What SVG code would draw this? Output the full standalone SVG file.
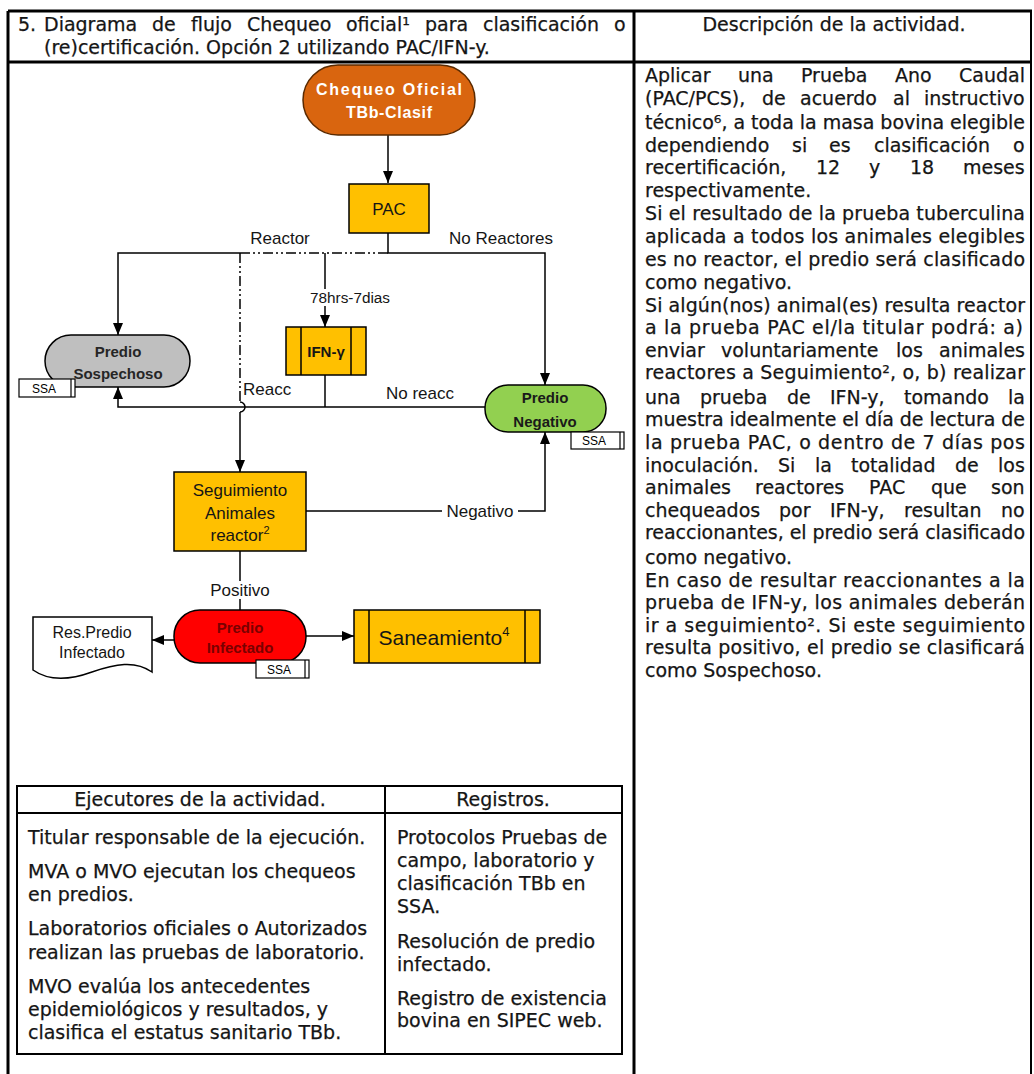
<svg xmlns="http://www.w3.org/2000/svg" width="1034" height="1074" viewBox="0 0 1034 1074">
<defs>
<style>
.t{font-family:"DejaVu Sans",Verdana,sans-serif;font-size:19px;fill:#151515;stroke:#151515;stroke-width:0.25px;}
.f{font-family:"Liberation Sans",Arial,sans-serif;fill:#151515;}
.lbl{font-size:17px;}
.nb{font-weight:bold;font-size:15px;}
.frame{stroke:#000;stroke-width:3;fill:none;}
.conn{stroke:#000;stroke-width:1.5;fill:none;}
.dd{stroke-dasharray:10 3 2 3 2 3;}
.box{stroke:#000;stroke-width:1.5;}
.ssa{fill:#fff;stroke:#000;stroke-width:1.2;}
.ssat{font-family:"Liberation Sans",Arial,sans-serif;font-size:12px;fill:#000;text-anchor:middle;}
</style>
<marker id="ah" viewBox="0 0 12 10" refX="12" refY="5" markerWidth="12" markerHeight="10" markerUnits="userSpaceOnUse" orient="auto">
<path d="M0,0 L12,5 L0,10 z" fill="#000"/>
</marker>
</defs>
<rect width="1034" height="1074" fill="#fff"/>

<g id="frame">
<line class="frame" x1="8" y1="11" x2="1032" y2="11"/>
<line class="frame" x1="8" y1="62" x2="1032" y2="62"/>
<line class="frame" x1="8" y1="11" x2="8" y2="1074"/>
<line class="frame" x1="634" y1="11" x2="634" y2="1074"/>
<line x1="1031" y1="11" x2="1031" y2="1074" stroke="#000" stroke-width="2"/>
</g>

<g id="title">
<text class="t" y="31"><tspan x="18">5.</tspan><tspan x="44">Diagrama</tspan><tspan x="152">de</tspan><tspan x="191">flujo</tspan><tspan x="247">Chequeo</tspan><tspan x="346">oficial¹</tspan><tspan x="425">para</tspan><tspan x="483">clasificación</tspan><tspan x="614">o</tspan></text>
<text class="t" x="44" y="54">(re)certificación. Opción 2 utilizando PAC/IFN-y.</text>
<text class="t" x="834" y="31" text-anchor="middle">Descripción de la actividad.</text>
</g>

<g id="description">
<text class="t" y="82"><tspan x="645">Aplicar</tspan><tspan x="738">una</tspan><tspan x="801">Prueba</tspan><tspan x="895">Ano</tspan><tspan x="959">Caudal</tspan></text>
<text class="t" y="105"><tspan x="645">(PAC/PCS),</tspan><tspan x="762">de</tspan><tspan x="800">acuerdo</tspan><tspan x="893">al</tspan><tspan x="924">instructivo</tspan></text>
<text class="t" x="645" y="129" textLength="380" lengthAdjust="spacing">técnico⁶, a toda la masa bovina elegible</text>
<text class="t" y="152"><tspan x="645">dependiendo</tspan><tspan x="792">si</tspan><tspan x="829">es</tspan><tspan x="874">clasificación</tspan><tspan x="1013">o</tspan></text>
<text class="t" y="174"><tspan x="645">recertificación,</tspan><tspan x="816">12</tspan><tspan x="869">y</tspan><tspan x="910">18</tspan><tspan x="963">meses</tspan></text>
<text class="t" x="645" y="197">respectivamente.</text>
<text class="t" x="645" y="220" textLength="380" lengthAdjust="spacing">Si el resultado de la prueba tuberculina</text>
<text class="t" x="645" y="243" textLength="380" lengthAdjust="spacing">aplicada a todos los animales elegibles</text>
<text class="t" x="645" y="266" textLength="380" lengthAdjust="spacing">es no reactor, el predio será clasificado</text>
<text class="t" x="645" y="289">como negativo.</text>
<text class="t" x="645" y="312" textLength="380" lengthAdjust="spacing">Si algún(nos) animal(es) resulta reactor</text>
<text class="t" x="645" y="334" textLength="378" lengthAdjust="spacing">a la prueba PAC el/la titular podrá: a)</text>
<text class="t" y="357"><tspan x="645">enviar</tspan><tspan x="721">voluntariamente</tspan><tspan x="896">los</tspan><tspan x="939">animales</tspan></text>
<text class="t" x="645" y="379" textLength="380" lengthAdjust="spacing">reactores a Seguimiento², o, b) realizar</text>
<text class="t" y="404"><tspan x="645">una</tspan><tspan x="700">prueba</tspan><tspan x="787">de</tspan><tspan x="830">IFN-y,</tspan><tspan x="904">tomando</tspan><tspan x="1008">la</tspan></text>
<text class="t" x="645" y="426" textLength="380" lengthAdjust="spacing">muestra idealmente el día de lectura de</text>
<text class="t" x="645" y="449" textLength="380" lengthAdjust="spacing">la prueba PAC, o dentro de 7 días pos</text>
<text class="t" y="472"><tspan x="645">inoculación.</tspan><tspan x="778">Si</tspan><tspan x="815">la</tspan><tspan x="851">totalidad</tspan><tspan x="955">de</tspan><tspan x="998">los</tspan></text>
<text class="t" y="494"><tspan x="645">animales</tspan><tspan x="755">reactores</tspan><tspan x="869">PAC</tspan><tspan x="931">que</tspan><tspan x="991">son</tspan></text>
<text class="t" y="517"><tspan x="645">chequeados</tspan><tspan x="779">por</tspan><tspan x="830">IFN-y,</tspan><tspan x="904">resultan</tspan><tspan x="1001">no</tspan></text>
<text class="t" x="645" y="539" textLength="380" lengthAdjust="spacing">reaccionantes, el predio será clasificado</text>
<text class="t" x="645" y="564">como negativo.</text>
<text class="t" x="645" y="587" textLength="380" lengthAdjust="spacing">En caso de resultar reaccionantes a la</text>
<text class="t" x="645" y="609" textLength="380" lengthAdjust="spacing">prueba de IFN-y, los animales deberán</text>
<text class="t" x="645" y="632" textLength="380" lengthAdjust="spacing">ir a seguimiento². Si este seguimiento</text>
<text class="t" x="645" y="654" textLength="380" lengthAdjust="spacing">resulta positivo, el predio se clasificará</text>
<text class="t" x="645" y="677">como Sospechoso.</text>
</g>

<g id="connectors">
<path class="conn" d="M388,135 V183" marker-end="url(#ah)"/>
<path class="conn" d="M388,233 V253 H545 V385" marker-end="url(#ah)"/>
<path class="conn dd" d="M388,253 H240"/>
<path class="conn" d="M240,253 H118 V335" marker-end="url(#ah)"/>
<path class="conn" d="M325,253 V327" marker-end="url(#ah)"/>
<path class="conn dd" d="M240,253 V402"/>
<path class="conn" d="M240,402 A5,5 0 0 1 240,412"/>
<path class="conn" d="M240,412 V472" marker-end="url(#ah)"/>
<path class="conn" d="M325,375 V407"/>
<path class="conn" d="M485,407 H118 V387" marker-end="url(#ah)"/>
<path class="conn" d="M306,511 H545 V432" marker-end="url(#ah)"/>
<path class="conn" d="M240,551 V610"/>
<path class="conn" d="M174,640 H152" marker-end="url(#ah)"/>
<path class="conn" d="M306,636 H354" marker-end="url(#ah)"/>
<rect x="308" y="289" width="84" height="17" fill="#fff"/>
<rect x="442" y="502" width="76" height="18" fill="#fff"/>
<rect x="205" y="581" width="70" height="18" fill="#fff"/>
<text class="f lbl" x="280" y="244" text-anchor="middle">Reactor</text>
<text class="f lbl" x="501" y="244" text-anchor="middle">No Reactores</text>
<text class="f" x="350" y="303" text-anchor="middle" font-size="14" textLength="80" lengthAdjust="spacingAndGlyphs">78hrs-7dias</text>
<text class="f lbl" x="243" y="395">Reacc</text>
<text class="f lbl" x="386" y="399">No reacc</text>
<text class="f lbl" x="480" y="517" text-anchor="middle">Negativo</text>
<text class="f lbl" x="240" y="596" text-anchor="middle">Positivo</text>
</g>

<g id="n-chequeo">
<rect x="303" y="65" width="172" height="70" rx="35" fill="#D9650F" stroke="#5a2a00" stroke-width="1.5"/>
<text class="f" x="389" y="95" text-anchor="middle" font-size="16" font-weight="bold" style="fill:#fff" textLength="146" lengthAdjust="spacing">Chequeo Oficial</text>
<text class="f" x="389" y="118" text-anchor="middle" font-size="16" font-weight="bold" style="fill:#fff" textLength="86" lengthAdjust="spacing">TBb-Clasif</text>
</g>

<g id="n-pac">
<rect class="box" x="349" y="184" width="80" height="49" fill="#FFC000"/>
<text class="f lbl" x="389" y="215" text-anchor="middle">PAC</text>
</g>

<g id="n-ifn">
<rect class="box" x="286" y="327" width="80" height="48" fill="#FFC000"/>
<line class="box" x1="301" y1="327" x2="301" y2="375"/>
<line class="box" x1="351" y1="327" x2="351" y2="375"/>
<text class="f nb" x="326" y="357" text-anchor="middle">IFN-γ</text>
</g>

<g id="n-sospechoso">
<rect class="box" x="45" y="335" width="145" height="52" rx="26" fill="#BFBFBF"/>
<text class="f nb" x="118" y="357" text-anchor="middle" style="fill:#262626">Predio</text>
<text class="f nb" x="118" y="379" text-anchor="middle" style="fill:#262626">Sospechoso</text>
<rect class="ssa" x="19" y="379" width="56" height="18"/>
<line class="ssa" x1="71" y1="379" x2="71" y2="397"/>
<text class="ssat" x="44" y="393">SSA</text>
</g>

<g id="n-negativo">
<rect class="box" x="485" y="385" width="121" height="47" rx="23" fill="#92D050"/>
<text class="f nb" x="545" y="403" text-anchor="middle" style="fill:#1a1a1a">Predio</text>
<text class="f nb" x="545" y="427" text-anchor="middle" style="fill:#1a1a1a">Negativo</text>
<rect class="ssa" x="571" y="432" width="53" height="17"/>
<line class="ssa" x1="620" y1="432" x2="620" y2="449"/>
<text class="ssat" x="594" y="445">SSA</text>
</g>

<g id="n-seguimiento">
<rect class="box" x="174" y="472" width="132" height="79" fill="#FFC000"/>
<text class="f lbl" x="240" y="496" text-anchor="middle">Seguimiento</text>
<text class="f lbl" x="240" y="519" text-anchor="middle">Animales</text>
<text class="f lbl" x="240" y="541" text-anchor="middle">reactor<tspan font-size="11" dy="-7">2</tspan></text>
</g>

<g id="n-infectado">
<rect class="box" x="174" y="610" width="132" height="53" rx="26" fill="#FF0000"/>
<text class="f nb" x="240" y="633" text-anchor="middle" style="fill:#7a0000">Predio</text>
<text class="f nb" x="240" y="653" text-anchor="middle" style="fill:#7a0000">Infectado</text>
<rect class="ssa" x="256" y="660" width="53" height="18"/>
<line class="ssa" x1="305" y1="660" x2="305" y2="678"/>
<text class="ssat" x="279" y="674">SSA</text>
</g>

<g id="n-resolucion">
<path class="box" d="M33,617 H152 V672 C135,660 115,664 92,672 C70,680 50,682 33,670 Z" fill="#fff"/>
<text class="f" x="92" y="638" text-anchor="middle" font-size="16">Res.Predio</text>
<text class="f" x="92" y="658" text-anchor="middle" font-size="16">Infectado</text>
</g>

<g id="n-saneamiento">
<rect class="box" x="354" y="610" width="186" height="53" fill="#FFC000"/>
<line class="box" x1="369" y1="610" x2="369" y2="663"/>
<line class="box" x1="525" y1="610" x2="525" y2="663"/>
<text class="f" x="444" y="645" text-anchor="middle" font-size="21">Saneamiento<tspan font-size="13" dy="-9">4</tspan></text>
</g>

<g id="table">
<rect x="17" y="786" width="605" height="268" fill="none" stroke="#000" stroke-width="2"/>
<line x1="17" y1="813" x2="622" y2="813" stroke="#000" stroke-width="2"/>
<line x1="385" y1="786" x2="385" y2="1054" stroke="#000" stroke-width="2"/>
<text class="t" x="200" y="806" text-anchor="middle">Ejecutores de la actividad.</text>
<text class="t" x="503" y="806" text-anchor="middle">Registros.</text>
<text class="t" x="28" y="844">Titular responsable de la ejecución.</text>
<text class="t" x="28" y="878">MVA o MVO ejecutan los chequeos</text>
<text class="t" x="28" y="901">en predios.</text>
<text class="t" x="28" y="935">Laboratorios oficiales o Autorizados</text>
<text class="t" x="28" y="959">realizan las pruebas de laboratorio.</text>
<text class="t" x="28" y="993">MVO evalúa los antecedentes</text>
<text class="t" x="28" y="1016">epidemiológicos y resultados, y</text>
<text class="t" x="28" y="1039">clasifica el estatus sanitario TBb.</text>
<text class="t" x="397" y="844">Protocolos Pruebas de</text>
<text class="t" x="397" y="867">campo, laboratorio y</text>
<text class="t" x="397" y="890">clasificación TBb en</text>
<text class="t" x="397" y="913">SSA.</text>
<text class="t" x="397" y="948">Resolución de predio</text>
<text class="t" x="397" y="971">infectado.</text>
<text class="t" x="397" y="1005">Registro de existencia</text>
<text class="t" x="397" y="1027">bovina en SIPEC web.</text>
</g>
</svg>
